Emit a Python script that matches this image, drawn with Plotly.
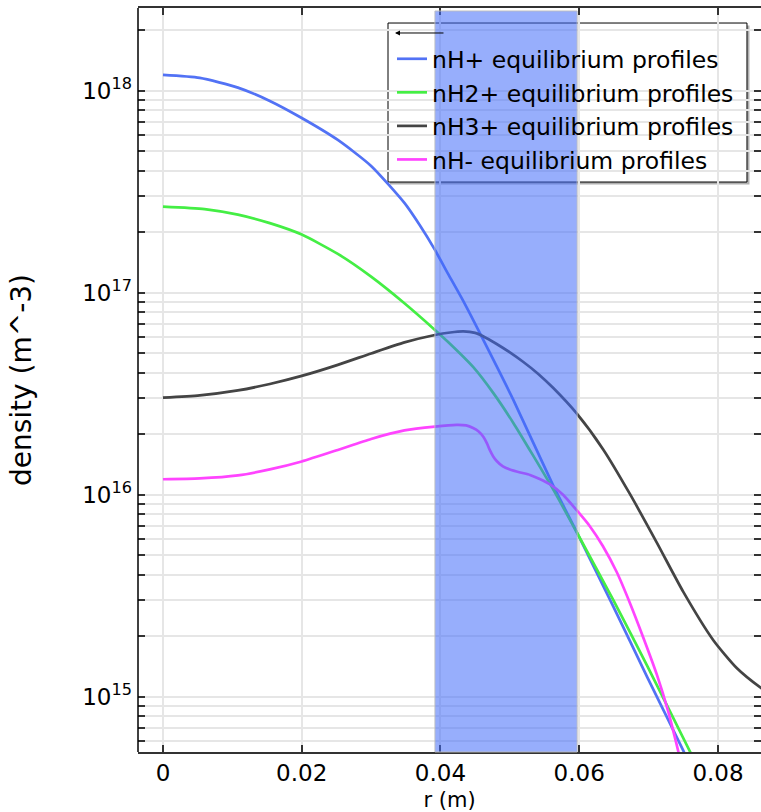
import plotly.graph_objects as go

# ---- data (r in m, density in m^-3) ----
r_h = [0.0, 0.0053, 0.0108, 0.0154, 0.0200, 0.0252, 0.0300, 0.0348, 0.0370, 0.0392,
       0.0411, 0.0432, 0.0461, 0.0505, 0.0562, 0.0597, 0.0649, 0.0698, 0.0750, 0.0774]
n_h = [1.196e18, 1.156e18, 1.035e18, 8.89e17, 7.32e17, 5.70e17, 4.24e17, 2.78e17, 2.16e17, 1.627e17,
       1.238e17, 9.20e16, 5.90e16, 2.944e16, 1.117e16, 6.46e15, 2.80e15, 1.25e15, 5.40e14, 3.57e14]

r_h2 = [0.0, 0.0060, 0.0108, 0.0154, 0.0200, 0.0252, 0.0300, 0.0348, 0.0392, 0.0411,
        0.0447, 0.0476, 0.0505, 0.0533, 0.0562, 0.0597, 0.0649, 0.0698, 0.0760, 0.0774]
n_h2 = [2.666e17, 2.593e17, 2.432e17, 2.208e17, 1.939e17, 1.555e17, 1.200e17, 8.86e16, 6.54e16, 5.70e16,
        4.29e16, 3.19e16, 2.265e16, 1.573e16, 1.067e16, 6.46e15, 3.01e15, 1.419e15, 5.32e14, 4.24e14]

r_h3 = [0.0, 0.0053, 0.0108, 0.0154, 0.0200, 0.0252, 0.0300, 0.0348, 0.0392, 0.0414,
        0.0433, 0.0450, 0.0462, 0.0481, 0.0500, 0.0519, 0.0541, 0.0563, 0.0596, 0.0635,
        0.0673, 0.0712, 0.0750, 0.0793, 0.0827, 0.0862, 0.0875]
n_h3 = [3.02e16, 3.10e16, 3.28e16, 3.53e16, 3.87e16, 4.39e16, 5.00e16, 5.67e16, 6.17e16, 6.35e16,
        6.43e16, 6.32e16, 6.07e16, 5.57e16, 5.06e16, 4.55e16, 3.96e16, 3.36e16, 2.53e16, 1.665e16,
        1.008e16, 5.77e15, 3.30e15, 1.909e15, 1.387e15, 1.104e15, 1.031e15]

r_hm = [0.0, 0.0053, 0.0108, 0.0154, 0.0200, 0.0252, 0.0300, 0.0348, 0.0392, 0.0423,
        0.0437, 0.0447, 0.0455, 0.0462, 0.0467, 0.0471, 0.0476, 0.0481, 0.0490, 0.0500,
        0.0515, 0.0529, 0.0543, 0.0558, 0.0577, 0.0596, 0.0615, 0.0634, 0.0654, 0.0673,
        0.0692, 0.0712, 0.0728, 0.0743, 0.0748]
n_hm = [1.192e16, 1.203e16, 1.245e16, 1.333e16, 1.460e16, 1.665e16, 1.887e16, 2.079e16, 2.171e16, 2.213e16,
        2.201e16, 2.139e16, 2.056e16, 1.930e16, 1.793e16, 1.665e16, 1.546e16, 1.468e16, 1.379e16, 1.333e16,
        1.288e16, 1.252e16, 1.196e16, 1.123e16, 9.97e15, 8.40e15, 7.00e15, 5.57e15, 4.14e15, 2.91e15,
        1.975e15, 1.281e15, 8.50e14, 5.32e14, 4.49e14]

series_names = ["nH+ equilibrium profiles", "nH2+ equilibrium profiles",
                "nH3+ equilibrium profiles", "nH- equilibrium profiles"]
series_colors = ["#5272f5", "#44ee44", "#444444", "#ff44ff"]

x_tick_vals = [0, 0.02, 0.04, 0.06, 0.08]
x_tick_text = ["0", "0.02", "0.04", "0.06", "0.08"]
y_tick_vals = [1e15, 1e16, 1e17, 1e18]
y_tick_text = ["10<sup>15</sup>", "10<sup>16</sup>", "10<sup>17</sup>", "10<sup>18</sup>"]
y_minor_vals = [m * 10.0 ** e for e in (14, 15, 16, 17, 18) for m in range(2, 10)]

band_r = [0.0392, 0.0597]

fig = go.Figure()
for xs, ys, name, col in zip([r_h, r_h2, r_h3, r_hm], [n_h, n_h2, n_h3, n_hm],
                             series_names, series_colors):
    fig.add_trace(go.Scatter(x=xs, y=ys, mode="lines", name=name,
                             line=dict(color=col, width=2.7, shape="spline", smoothing=0.6)))

grid = "#e6e6e6"
axcol = "#333333"

fig.update_layout(
    width=761, height=812,
    margin=dict(l=138, r=0, t=8, b=60, autoexpand=False),
    paper_bgcolor="white", plot_bgcolor="white",
    font=dict(family="DejaVu Sans", size=23, color="black"),
    showlegend=True,
    legend=dict(x=0.4077, y=0.961, xanchor="left", yanchor="top",
                bgcolor="rgba(0,0,0,0)", borderwidth=0,
                font=dict(family="DejaVu Sans", size=23.5, color="black"),
                itemwidth=30, tracegroupgap=0),
    xaxis=dict(range=[-0.0036, 0.0862], tickmode="array", tickvals=x_tick_vals, ticktext=x_tick_text,
               ticks="inside", ticklen=7, tickcolor=axcol, tickwidth=1.5, ticklabelstandoff=0,
               showgrid=True, gridcolor=grid, gridwidth=1.5, zeroline=False, automargin=False,
               showline=True, linecolor=axcol, linewidth=1.5, mirror="ticks",
               title=dict(text="r (m)", standoff=14, font=dict(size=21))),
    yaxis=dict(type="log", range=[14.726, 18.409], tickmode="array",
               tickvals=y_tick_vals, ticktext=y_tick_text, automargin=False,
               ticks="inside", ticklen=7, tickcolor=axcol, tickwidth=1.5, ticklabelstandoff=5,
               showgrid=True, gridcolor=grid, gridwidth=1.5, zeroline=False,
               showline=False, mirror="ticks",
               minor=dict(tickmode="array", tickvals=y_minor_vals, ticks="inside", ticklen=7,
                          tickcolor=axcol, tickwidth=1.5, showgrid=True, gridcolor=grid, gridwidth=1.5),
               title=dict(text="density (m^-3)", standoff=42)),
)

# left axis line
fig.add_shape(type="line", xref="paper", yref="paper", x0=0, x1=0, y0=0, y1=1,
              line=dict(color="black", width=1.5), layer="above")
# legend frame (shadow + box)
fig.add_shape(type="rect", xref="paper", yref="paper", x0=0.4045, x1=0.9815, y0=0.7627, y1=0.9765,
              fillcolor="#b0b0b0", line=dict(width=0), layer="between")
fig.add_shape(type="rect", xref="paper", yref="paper", x0=0.4013, x1=0.9775, y0=0.7661, y1=0.9798,
              fillcolor="white", line=dict(color="black", width=1), layer="between")
# highlighted band
fig.add_shape(type="rect", xref="x", yref="paper", x0=band_r[0], x1=band_r[1], y0=0, y1=0.996,
              fillcolor="rgba(66,108,250,0.55)", line=dict(color="rgba(190,190,190,0.9)", width=1),
              layer="above")
# arrow entry in the legend
fig.add_annotation(xref="paper", yref="paper", x=0.4125, y=0.9664, text="",
                   showarrow=True, axref="pixel", ayref="pixel", ax=50, ay=0,
                   arrowhead=2, arrowsize=1, arrowwidth=1, arrowcolor="black")

fig.write_html("out.html", config={"displayModeBar": False},
               post_script="document.body.style.margin='0';document.body.style.overflow='hidden';")
